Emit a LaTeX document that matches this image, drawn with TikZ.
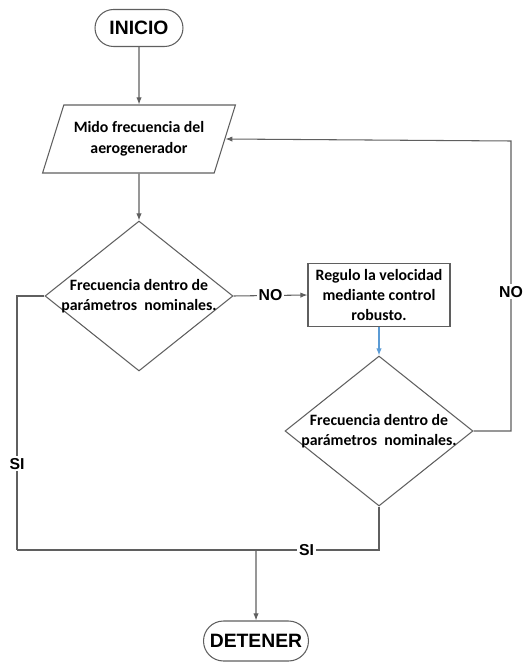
\documentclass[tikz,border=0pt]{standalone}
\usepackage{fontspec}
\newfontfamily\arialfont{Liberation Sans}
\newfontfamily\califont{Carlito}
\usepackage{tikz}
\usetikzlibrary{arrows.meta,positioning,calc,shapes.geometric,shapes.misc}
\definecolor{linegray}{RGB}{95,95,95}
\definecolor{officeblue}{RGB}{91,155,213}

\begin{document}
\begin{tikzpicture}[x=0.02cm,y=-0.02cm,
    every node/.style={inner sep=0pt},
    terminal/.style={rounded rectangle,draw=linegray,line width=0.6pt,font=\arialfont\bfseries\fontsize{11}{13}\selectfont},
    datos/.style={trapezium,trapezium left angle=65.5,trapezium right angle=114.5,trapezium stretches=true,
        draw=linegray,line width=0.6pt,minimum width=3.86cm,minimum height=1.36cm,align=center,
        font=\califont\bfseries\fontsize{9}{11.5}\selectfont},
    proceso/.style={rectangle,draw=linegray,line width=0.6pt,minimum width=2.84cm,minimum height=1.26cm,align=center,
        font=\califont\bfseries\fontsize{9}{11.5}\selectfont},
    decision/.style={diamond,draw=linegray,line width=0.6pt,minimum width=3.76cm,minimum height=3.0cm},
    dtext/.style={align=center,font=\califont\bfseries\fontsize{9}{11.5}\selectfont},
    lbl/.style={fill=white,inner sep=1pt,font=\arialfont\bfseries\fontsize{9}{10}\selectfont},
    line/.style={draw=linegray,line width=0.6pt},
    flecha/.style={line,-{Latex[length=4pt,width=3pt]}}]
    \useasboundingbox (0,0) rectangle (526,662);

    % Inicio y lectura
    \node[terminal,minimum width=1.76cm,minimum height=0.74cm] (ini) at (139,28) {INICIO};
    \node[datos] (mido) at (139,139) {\raisebox{3pt}{\begin{tabular}{@{}c@{}}Mido frecuencia del\\aerogenerador\end{tabular}}};

    % Decisiones
    \node[decision,label={[dtext]center:Frecuencia dentro de\\parámetros\ \ nominales.}] (dec1) at (139,296) {};
    \node[proceso] (regulo) at (379,295) {Regulo la velocidad\\mediante control\\robusto.};
    \node[decision,label={[dtext]center:Frecuencia dentro de\\parámetros\ \ nominales.}] (dec2) at (379,431) {};

    % Fin
    \node[terminal,minimum width=2.1cm,minimum height=0.8cm] (fin) at (256,641) {DETENER};

    % Puntos de union
    \coordinate (back) at (511,141);
    \coordinate (izq) at (17,550);
    \coordinate (union) at (256,550);

    % Conectores
    \draw[flecha] (ini) -- (mido);
    \draw[flecha] (mido) -- (dec1);
    \draw[flecha] (dec1.east) -- node[lbl]{NO} (regulo.west);
    \draw[line,officeblue,-{Latex[length=4pt,width=3pt]}] (regulo) -- (dec2);
    \draw[flecha] (dec2.east) -| node[lbl,pos=0.74]{NO} (back) -- (mido.east);
    \draw[line] (dec1.west) -| node[lbl,pos=0.83]{SI} (izq);
    \draw[line] (dec2.south) |- node[lbl,pos=0.6]{SI} (izq);
    \draw[flecha] (union) -- (fin);
\end{tikzpicture}
\end{document}
